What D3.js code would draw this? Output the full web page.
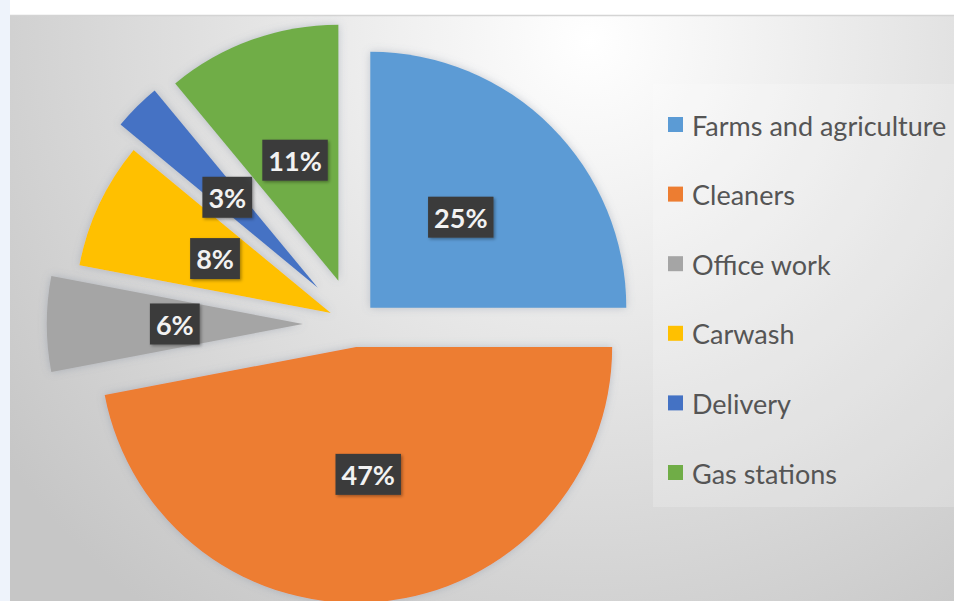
<!DOCTYPE html>
<html>
<head>
<meta charset="utf-8">
<script src="https://cdn.jsdelivr.net/npm/d3@7"></script>
<style>
  html, body { margin: 0; padding: 0; background: #ffffff; }
  svg { display: block; }
</style>
</head>
<body>
<svg id="chart" width="954" height="601"></svg>
<script>
// ---- data ----
const categories = ["Farms and agriculture", "Cleaners", "Office work", "Carwash", "Delivery", "Gas stations"];
const values = [25, 47, 6, 8, 3, 11];
const labels = ["25%", "47%", "6%", "8%", "3%", "11%"];

// ---- style ----
const colors = ["#5b9bd5", "#ed7d31", "#a5a5a5", "#ffc000", "#4472c4", "#70ad47"];
const explodeFrac = [0.09, 0.09, 0.2, 0.1, 0.2, 0.18];

const W = 954, H = 601;
const svg = d3.select("#chart");
const defs = svg.append("defs");

// background gradient
const bg = defs.append("radialGradient").attr("id", "bgGrad")
  .attr("gradientUnits", "userSpaceOnUse")
  .attr("cx", 590).attr("cy", 40).attr("r", 720);
bg.append("stop").attr("offset", "0").attr("stop-color", "#ffffff");
bg.append("stop").attr("offset", "0.35").attr("stop-color", "#ebebeb");
bg.append("stop").attr("offset", "0.75").attr("stop-color", "#d4d4d4");
bg.append("stop").attr("offset", "1").attr("stop-color", "#c6c6c6");

const sh = defs.append("filter").attr("id", "sliceShadow")
  .attr("x", "-20%").attr("y", "-20%").attr("width", "140%").attr("height", "140%");
sh.append("feDropShadow").attr("dx", 0).attr("dy", 0).attr("stdDeviation", 4)
  .attr("flood-color", "#6a7a90").attr("flood-opacity", 0.35);

const lsh = defs.append("filter").attr("id", "labelShadow")
  .attr("x", "-20%").attr("y", "-20%").attr("width", "140%").attr("height", "140%");
lsh.append("feDropShadow").attr("dx", 1.5).attr("dy", 1.5).attr("stdDeviation", 1.5)
  .attr("flood-color", "#000").attr("flood-opacity", 0.35);

// page frame
svg.append("rect").attr("x", 0).attr("y", 0).attr("width", W).attr("height", H).attr("fill", "#ffffff");
svg.append("rect").attr("x", 0).attr("y", 0).attr("width", 10).attr("height", H).attr("fill", "#eef3fb");
svg.append("rect").attr("x", 10).attr("y", 16).attr("width", W - 10).attr("height", H - 16).attr("fill", "url(#bgGrad)");
svg.append("line").attr("x1", 10).attr("x2", W).attr("y1", 15.5).attr("y2", 15.5)
  .attr("stroke", "#d4d4d4").attr("stroke-width", 1.5);

// legend panel
svg.append("rect").attr("x", 653).attr("y", 84).attr("width", W - 653).attr("height", 423)
  .attr("fill", "#ffffff").attr("opacity", 0.2);

// ---- pie ----
const cx = 354, cy = 324, R = 256;
const pie = d3.pie().sort(null).value(d => d.v).startAngle(0).endAngle(2 * Math.PI);
const arcs = pie(values.map((v, i) => ({ v, i })));
const arc = d3.arc().innerRadius(0).outerRadius(R);

const g = svg.append("g").attr("transform", `translate(${cx},${cy})`);

const slices = g.selectAll("g.slice").data(arcs).enter().append("g")
  .attr("class", "slice")
  .attr("transform", d => {
    const mid = (d.startAngle + d.endAngle) / 2;
    const off = explodeFrac[d.data.i] * R;
    return `translate(${off * Math.sin(mid)},${-off * Math.cos(mid)})`;
  });

slices.append("path")
  .attr("d", arc)
  .attr("fill", d => colors[d.data.i])
  .attr("filter", "url(#sliceShadow)");

// labels
const labelFont = "bold 27px Lato, 'Open Sans', sans-serif";
slices.each(function (d) {
  const sel = d3.select(this);
  const [lx, ly] = arc.centroid(d);
  const t = sel.append("text")
    .attr("x", lx).attr("y", ly)
    .attr("text-anchor", "middle")
    .attr("dominant-baseline", "central")
    .style("font", labelFont)
    .attr("fill", "#f2f2f2")
    .text(labels[d.data.i]);
  const bb = t.node().getBBox();
  const padX = 6, h = 41;
  sel.insert("rect", "text")
    .attr("x", lx - bb.width / 2 - padX)
    .attr("y", ly - h / 2)
    .attr("width", bb.width + padX * 2)
    .attr("height", h)
    .attr("fill", "#3b3b3b")
    .attr("filter", "url(#labelShadow)");
});

// ---- legend ----
const legY = d3.scalePoint().domain(categories).range([125, 473]);
const leg = svg.append("g");
const items = leg.selectAll("g").data(categories).enter().append("g")
  .attr("transform", d => `translate(668,${legY(d)})`);
items.append("rect")
  .attr("x", 0).attr("y", -8).attr("width", 15).attr("height", 15)
  .attr("fill", (d, i) => colors[i]);
items.append("text")
  .attr("x", 24).attr("y", 0)
  .attr("dominant-baseline", "central")
  .style("font", "27px Lato, 'Open Sans', sans-serif")
  .attr("fill", "#555555")
  .text(d => d);
</script>
</body>
</html>
